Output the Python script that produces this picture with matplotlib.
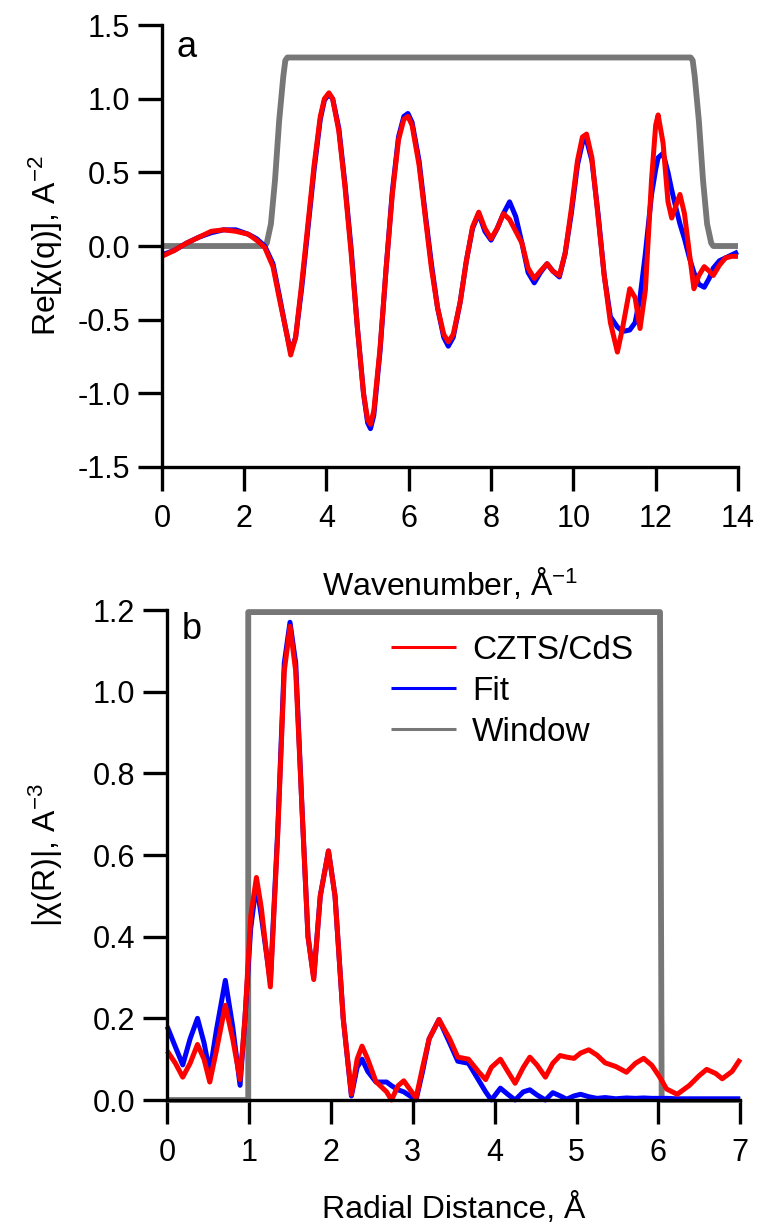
import matplotlib
matplotlib.use("Agg")
import matplotlib.pyplot as plt

plt.rcParams['font.family'] = ['Liberation Sans', 'DejaVu Sans']
plt.rcParams['mathtext.fontset'] = 'custom'
plt.rcParams['mathtext.rm'] = 'Liberation Sans'
plt.rcParams['mathtext.it'] = 'Liberation Sans'
plt.rcParams['axes.unicode_minus'] = False

# panel a: Re[chi(q)]
q = [0.0, 0.3, 0.6, 0.9, 1.2, 1.5, 1.8, 2.1, 2.3, 2.5, 2.7, 2.85, 3.0, 3.13, 3.25, 3.4, 3.55, 3.7,
     3.85, 3.95, 4.06, 4.15, 4.3, 4.45, 4.6, 4.75, 4.9, 5.0, 5.07, 5.15, 5.3, 5.45, 5.6, 5.75, 5.88,
     5.98, 6.08, 6.25, 6.4, 6.55, 6.7, 6.85, 6.96, 7.08, 7.25, 7.4, 7.55, 7.7, 7.85, 8.0, 8.15, 8.3,
     8.45, 8.6, 8.75, 8.9, 9.05, 9.2, 9.36, 9.5, 9.66, 9.8, 9.95, 10.1, 10.22, 10.32, 10.45, 10.6,
     10.75, 10.9, 11.07, 11.2, 11.37, 11.5, 11.62, 11.75, 11.9, 12.0, 12.06, 12.18, 12.3, 12.39,
     12.5, 12.59, 12.7, 12.82, 12.93, 13.05, 13.18, 13.3, 13.4, 13.55, 13.7, 13.85, 14.0]
chi_q_data = [-0.07, -0.03, 0.02, 0.06, 0.10, 0.11, 0.10, 0.08, 0.04, -0.01, -0.14, -0.35, -0.55,
              -0.74, -0.62, -0.25, 0.15, 0.55, 0.88, 1.0, 1.04, 1.0, 0.78, 0.4, -0.05, -0.55, -1.0,
              -1.18, -1.21, -1.12, -0.7, -0.15, 0.35, 0.72, 0.86, 0.88, 0.82, 0.55, 0.2, -0.15, -0.42,
              -0.6, -0.65, -0.6, -0.38, -0.1, 0.13, 0.23, 0.12, 0.05, 0.12, 0.22, 0.18, 0.1, 0.02,
              -0.15, -0.22, -0.17, -0.12, -0.17, -0.2, -0.05, 0.25, 0.58, 0.74, 0.76, 0.6, 0.2, -0.2,
              -0.52, -0.72, -0.55, -0.29, -0.35, -0.56, -0.3, 0.45, 0.82, 0.89, 0.7, 0.3, 0.19, 0.28,
              0.35, 0.22, -0.05, -0.29, -0.2, -0.14, -0.17, -0.2, -0.13, -0.08, -0.07, -0.07]
chi_q_fit = [-0.06, -0.03, 0.02, 0.06, 0.09, 0.11, 0.11, 0.08, 0.05, 0.0, -0.12, -0.33, -0.55,
             -0.72, -0.62, -0.28, 0.12, 0.52, 0.86, 0.99, 1.03, 1.0, 0.8, 0.42, -0.02, -0.55, -1.0,
             -1.2, -1.24, -1.15, -0.72, -0.15, 0.37, 0.74, 0.88, 0.90, 0.84, 0.58, 0.22, -0.12, -0.42,
             -0.62, -0.68, -0.62, -0.38, -0.1, 0.12, 0.22, 0.1, 0.04, 0.12, 0.22, 0.30, 0.2, 0.02,
             -0.18, -0.25, -0.18, -0.12, -0.17, -0.21, -0.05, 0.22, 0.55, 0.7, 0.72, 0.58, 0.22, -0.2,
             -0.48, -0.55, -0.58, -0.57, -0.52, -0.35, -0.05, 0.35, 0.52, 0.6, 0.63, 0.5, 0.38, 0.25,
             0.15, 0.05, -0.08, -0.18, -0.26, -0.28, -0.22, -0.15, -0.1, -0.08, -0.06, -0.04]
q_win = [0.0, 2.5, 2.55, 2.65, 2.75, 2.85, 2.95, 3.0, 3.05, 12.85, 12.9, 12.95, 13.05, 13.15,
         13.25, 13.35, 13.4, 14.0]
win_q = [0.0, 0.0, 0.02, 0.15, 0.45, 0.85, 1.15, 1.26, 1.28, 1.28, 1.26, 1.15, 0.85, 0.45,
         0.15, 0.02, 0.0, 0.0]

# panel b: |chi(R)|
r = [0.0, 0.1, 0.19, 0.28, 0.37, 0.45, 0.52, 0.6, 0.71, 0.8, 0.89, 0.95, 1.02, 1.09, 1.15, 1.26,
     1.35, 1.43, 1.5, 1.57, 1.65, 1.72, 1.79, 1.87, 1.97, 2.05, 2.15, 2.25, 2.32, 2.38, 2.45, 2.55,
     2.68, 2.74, 2.82, 2.89, 3.04, 3.12, 3.2, 3.32, 3.45, 3.55, 3.68, 3.8, 3.89, 3.96, 4.07, 4.16,
     4.25, 4.35, 4.43, 4.52, 4.62, 4.71, 4.8, 4.88, 4.97, 5.05, 5.15, 5.25, 5.35, 5.48, 5.61, 5.72,
     5.82, 5.92, 6.02, 6.1, 6.23, 6.38, 6.5, 6.59, 6.7, 6.78, 6.9, 7.0]
chi_r_data = [0.12, 0.09, 0.056, 0.09, 0.136, 0.1, 0.044, 0.12, 0.232, 0.15, 0.05, 0.2, 0.45,
              0.545, 0.47, 0.277, 0.65, 1.05, 1.16, 1.05, 0.7, 0.4, 0.295, 0.5, 0.61, 0.5, 0.2,
              0.014, 0.1, 0.132, 0.1, 0.045, 0.02, 0.0, 0.035, 0.047, 0.005, 0.08, 0.15, 0.197,
              0.15, 0.105, 0.1, 0.07, 0.05, 0.08, 0.1, 0.07, 0.041, 0.08, 0.105, 0.085, 0.056,
              0.09, 0.109, 0.105, 0.102, 0.115, 0.123, 0.11, 0.091, 0.082, 0.068, 0.09, 0.102,
              0.085, 0.055, 0.027, 0.014, 0.036, 0.06, 0.075, 0.065, 0.052, 0.07, 0.1]
chi_r_fit = [0.18, 0.13, 0.086, 0.15, 0.2, 0.14, 0.068, 0.17, 0.293, 0.18, 0.036, 0.2, 0.42,
             0.53, 0.45, 0.29, 0.66, 1.07, 1.17, 1.07, 0.7, 0.4, 0.3, 0.5, 0.61, 0.5, 0.2, 0.01,
             0.08, 0.1, 0.07, 0.044, 0.044, 0.035, 0.025, 0.02, 0.0, 0.07, 0.15, 0.197, 0.14,
             0.095, 0.09, 0.05, 0.02, 0.0, 0.029, 0.014, 0.0, 0.02, 0.025, 0.012, 0.0, 0.018, 0.01,
             0.002, 0.01, 0.014, 0.008, 0.004, 0.006, 0.003, 0.005, 0.004, 0.005, 0.004, 0.004,
             0.004, 0.003, 0.003, 0.003, 0.003, 0.003, 0.003, 0.003, 0.003]
r_win = [0.0, 0.99, 0.99, 6.02, 6.04, 7.0]
win_r = [0.0, 0.0, 1.195, 1.195, 0.0, 0.0]

RED, BLUE, GRAY = '#ff0000', '#0000ff', '#777777'
FS = 22
LFS = 23

fig = plt.figure(figsize=(7.6, 12.24), dpi=100)
ax1 = fig.add_axes([0.213, 0.6185, 0.758, 0.361])
ax2 = fig.add_axes([0.220, 0.1013, 0.754, 0.4003])

for ax in (ax1, ax2):
    for s in ('top', 'right'):
        ax.spines[s].set_visible(False)
    for s in ('left', 'bottom'):
        ax.spines[s].set_linewidth(2.4)
    ax.tick_params(direction='out', length=17, width=2.4, labelsize=FS)
    ax.tick_params(axis='x', pad=10)
    ax.tick_params(axis='y', pad=6)

kw = dict(clip_on=False, solid_joinstyle='round', solid_capstyle='butt')
ax1.plot(q_win, win_q, color=GRAY, lw=4.2, **kw)
ax1.plot(q, chi_q_fit, color=BLUE, lw=3.6, **kw)
ax1.plot(q, chi_q_data, color=RED, lw=3.6, **kw)
ax1.set_xlim(0, 14)
ax1.set_ylim(-1.5, 1.5)
ax1.set_xticks(range(0, 15, 2))
yt1 = [-1.5, -1.0, -0.5, 0.0, 0.5, 1.0, 1.5]
ax1.set_yticks(yt1)
ax1.set_yticklabels(['%.1f' % v for v in yt1])
ax1.set_xlabel('Wavenumber, Å$^{-1}$', fontsize=LFS)
ax1.set_ylabel('Re[χ(q)], A$^{-2}$', fontsize=LFS)
ax1.xaxis.set_label_coords(0.5, -0.225)
ax1.yaxis.set_label_coords(-0.168, 0.5)
ax1.text(0.026, 0.928, 'a', transform=ax1.transAxes, fontsize=26, va='baseline')

lw_, = ax2.plot(r_win, win_r, color=GRAY, lw=4.2, label='Window', **kw)
lf, = ax2.plot(r, chi_r_fit, color=BLUE, lw=3.6, label='Fit', **kw)
ld, = ax2.plot(r, chi_r_data, color=RED, lw=3.6, label='CZTS/CdS', **kw)
ax2.set_xlim(0, 7)
ax2.set_ylim(0, 1.2)
ax2.set_xticks(range(0, 8))
yt2 = [0.0, 0.2, 0.4, 0.6, 0.8, 1.0, 1.2]
ax2.set_yticks(yt2)
ax2.set_yticklabels(['%.1f' % v for v in yt2])
ax2.set_xlabel('Radial Distance, Å', fontsize=LFS)
ax2.set_ylabel('|χ(R)|, A$^{-3}$', fontsize=LFS)
ax2.xaxis.set_label_coords(0.5, -0.19)
ax2.yaxis.set_label_coords(-0.178, 0.5)
ax2.text(0.025, 0.94, 'b', transform=ax2.transAxes, fontsize=26, va='baseline')
leg = ax2.legend(handles=[ld, lf, lw_], loc='upper left', bbox_to_anchor=(0.39, 0.95),
                 frameon=False, fontsize=24, handlelength=1.95, handletextpad=0.5,
                 labelspacing=0.3, borderaxespad=0, borderpad=0)
for h in leg.legend_handles:
    h.set_linewidth(2.2)

fig.savefig('out.png', dpi=100)
